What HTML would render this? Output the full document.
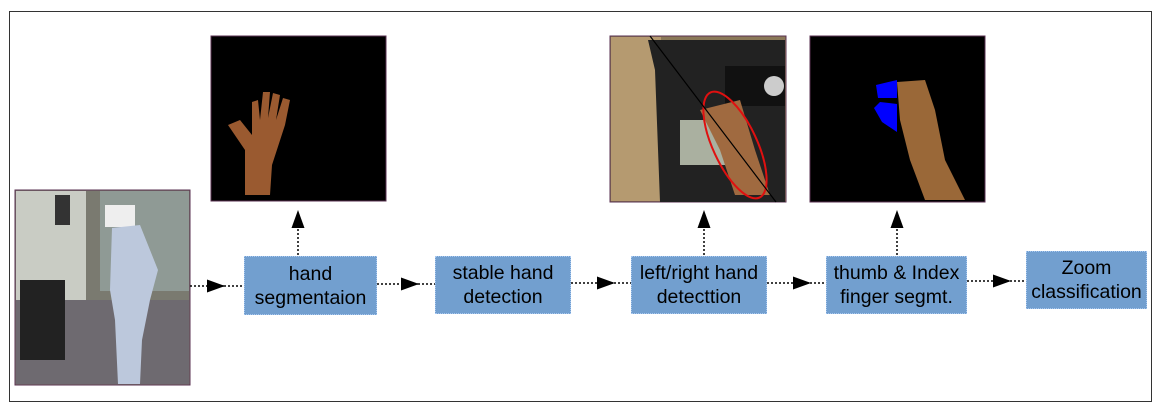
<!DOCTYPE html>
<html><head><style>
body{margin:0;background:#fff;width:1160px;height:412px;overflow:hidden;font-family:"Liberation Sans",sans-serif}
.b{position:absolute;background:#729fcf;border:1px dotted #a8c8f0;box-sizing:border-box;display:flex;align-items:center;justify-content:center;text-align:center;font-size:19.5px;line-height:24px;color:#000}
</style></head><body>
<div style="position:absolute;left:9px;top:11px;width:1143px;height:391px;border:1px solid #333;box-sizing:border-box"></div>
<svg width="1160" height="412" style="position:absolute;left:0;top:0">
<defs><marker id="a" markerWidth="18" markerHeight="13" refX="17" refY="6.5" orient="auto" markerUnits="userSpaceOnUse"><path d="M0,0L18,6.5L0,13z" fill="#000"/></marker></defs>
<!-- photo 1 -->
<rect x="15" y="190" width="175" height="195" fill="#7a7a70" stroke="#5a3050"/>
<rect x="16" y="191" width="70" height="120" fill="#c9ccc4"/>
<rect x="100" y="191" width="89" height="100" fill="#8f9a95"/>
<rect x="16" y="300" width="173" height="84" fill="#6e6a70"/>
<rect x="20" y="280" width="45" height="80" fill="#222"/>
<rect x="55" y="195" width="15" height="30" fill="#333"/>
<rect x="105" y="205" width="30" height="22" fill="#eee"/>
<path d="M112,228 L140,225 L158,270 L150,300 L142,340 L140,384 L118,384 L115,320 L110,290 Z" fill="#bcc8dc"/>
<!-- image 2 -->
<rect x="211" y="36" width="175" height="165" fill="#000" stroke="#5a3050"/>
<path d="M245,195 L270,195 L272,165 L285,125 L290,100 L283,98 L276,120 L280,95 L273,93 L268,118 L270,92 L263,92 L260,120 L258,100 L252,102 L252,135 L240,120 L228,125 L245,150 Z" fill="#9a5a30"/>
<!-- image 3 -->
<rect x="610" y="36" width="176" height="166" fill="#8a7858" stroke="#5a3050"/>
<rect x="611" y="37" width="50" height="164" fill="#b59a70"/>
<path d="M648,40 L785,40 L785,202 L660,202 L655,70 Z" fill="#222"/>
<rect x="725" y="66" width="60" height="40" fill="#111"/>
<circle cx="774" cy="86" r="10" fill="#ccc"/>
<rect x="680" y="120" width="50" height="45" fill="#aab0a0"/>
<path d="M700,110 L740,100 L755,150 L770,195 L735,195 L720,150 Z" fill="#a06a40"/>
<ellipse cx="735" cy="145" rx="22" ry="58" transform="rotate(-25 735 145)" fill="none" stroke="#e01010" stroke-width="2"/>
<line x1="650" y1="36" x2="776" y2="202" stroke="#000" stroke-width="1.2"/>
<!-- image 4 -->
<rect x="810" y="36" width="175" height="166" fill="#000" stroke="#5a3050"/>
<path d="M897,82 L925,80 L935,110 L945,160 L965,200 L925,200 L910,160 L900,120 Z" fill="#9a6838"/>
<path d="M876,85 L897,80 L897,98 L878,98 Z" fill="#0000ff"/>
<path d="M874,108 L880,102 L897,104 L897,132 L882,122 Z" fill="#0000ff"/>
<g stroke="#000" stroke-width="1.5" stroke-dasharray="2,2" fill="none">
<line x1="190" y1="286" x2="224" y2="286" marker-end="url(#a)"/><line x1="224" y1="286" x2="244" y2="286"/>
<line x1="377" y1="284" x2="418" y2="284" marker-end="url(#a)"/><line x1="418" y1="284" x2="435" y2="284"/>
<line x1="571" y1="283" x2="614" y2="283" marker-end="url(#a)"/><line x1="614" y1="283" x2="631" y2="283"/>
<line x1="767" y1="283" x2="810" y2="283" marker-end="url(#a)"/><line x1="810" y1="283" x2="826" y2="283"/>
<line x1="967" y1="281" x2="1010" y2="281" marker-end="url(#a)"/><line x1="1010" y1="281" x2="1026" y2="281"/>
<line x1="298" y1="255" x2="298" y2="211" marker-end="url(#a)"/>
<line x1="704" y1="255" x2="704" y2="211" marker-end="url(#a)"/>
<line x1="897" y1="255" x2="897" y2="211" marker-end="url(#a)"/>
</g>
</svg>
<div class="b" style="left:244px;top:256px;width:133px;height:59px">hand<br>segmentaion</div>
<div class="b" style="left:435px;top:256px;width:136px;height:58px">stable hand<br>detection</div>
<div class="b" style="left:631px;top:256px;width:136px;height:58px">left/right hand<br>detecttion</div>
<div class="b" style="left:826px;top:256px;width:141px;height:58px">thumb &amp; Index<br>finger segmt.</div>
<div class="b" style="left:1026px;top:251px;width:121px;height:58px">Zoom<br>classification</div>
</body></html>
